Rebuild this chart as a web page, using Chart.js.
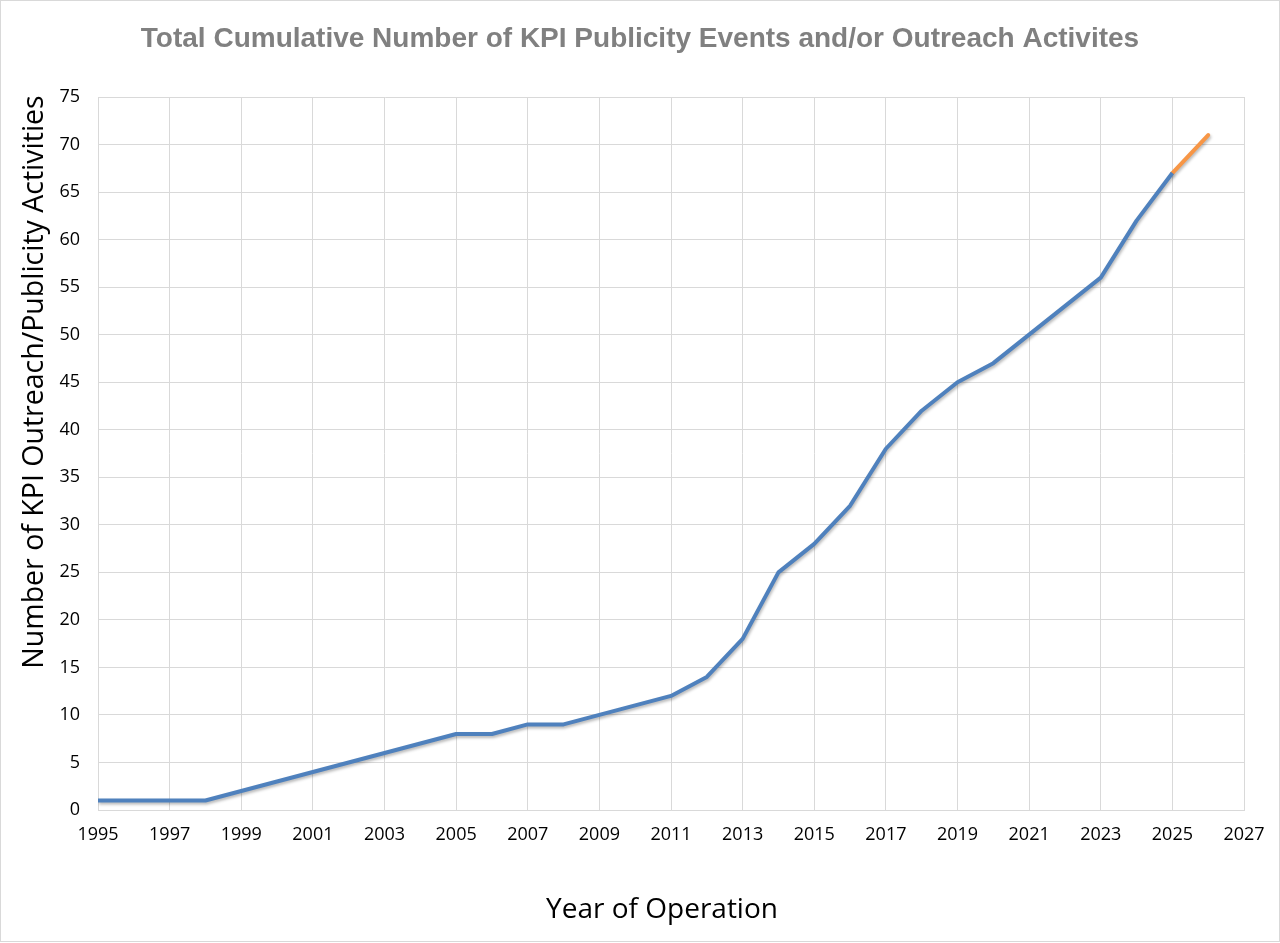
<!DOCTYPE html>
<html>
<head>
<meta charset="utf-8">
<title>KPI Outreach</title>
<script src="https://cdn.jsdelivr.net/npm/chart.js@4.4.1/dist/chart.umd.min.js"></script>
<style>
  html, body { margin: 0; padding: 0; background: #fff; }
  canvas { display: block; }
</style>
</head>
<body>
<canvas id="chart" width="1280" height="943"></canvas>
<script>
// cumulative totals per year
const years = [1995, 1996, 1997, 1998, 1999, 2000, 2001, 2002, 2003, 2004, 2005, 2006, 2007, 2008, 2009, 2010,
               2011, 2012, 2013, 2014, 2015, 2016, 2017, 2018, 2019, 2020, 2021, 2022, 2023, 2024, 2025];
const totals = [1, 1, 1, 1, 2, 3, 4, 5, 6, 7, 8, 8, 9, 9, 10, 11,
                12, 14, 18, 25, 28, 32, 38, 42, 45, 47, 50, 53, 56, 62, 67];
// projection segment
const projYears = [2025, 2026];
const projTotals = [67, 71];

const chartTitle = 'Total Cumulative Number of KPI Publicity Events and/or Outreach Activites';
const xTitle = 'Year of Operation';
const yTitle = 'Number of KPI Outreach/Publicity Activities';

const toPoints = (xs, ys) => xs.map((x, i) => ({ x: x, y: ys[i] }));

// white background, outer border and the text titles
const decorations = {
    id: 'decorations',
    beforeDraw(chart) {
        const ctx = chart.ctx;
        ctx.save();
        ctx.fillStyle = '#ffffff';
        ctx.fillRect(0, 0, chart.width, chart.height);
        ctx.strokeStyle = '#d9d9d9';
        ctx.lineWidth = 1;
        ctx.strokeRect(0.5, 0.5, chart.width - 1, chart.height - 2);
        ctx.restore();
    },
    afterDraw(chart) {
        const ctx = chart.ctx;
        ctx.save();
        ctx.fillStyle = '#808080';
        ctx.font = 'bold 28px "Liberation Sans", Arial, sans-serif';
        ctx.textAlign = 'center';
        ctx.textBaseline = 'alphabetic';
        ctx.fillText(chartTitle, 640, 47);

        ctx.fillStyle = '#000000';
        ctx.font = '28px "Open Sans", "Liberation Sans", sans-serif';
        ctx.fillText(xTitle, 662, 918);

        ctx.translate(43, 382);
        ctx.rotate(-Math.PI / 2);
        ctx.font = '28.5px "Open Sans", "Liberation Sans", sans-serif';
        ctx.fillText(yTitle, 0, 0);
        ctx.restore();
    }
};

// soft shadow under the lines
const lineShadow = {
    id: 'lineShadow',
    beforeDatasetsDraw(chart) {
        const ctx = chart.ctx;
        ctx.save();
        ctx.shadowColor = 'rgba(0, 0, 0, 0.28)';
        ctx.shadowBlur = 3;
        ctx.shadowOffsetX = 1;
        ctx.shadowOffsetY = 2;
    },
    afterDatasetsDraw(chart) {
        chart.ctx.restore();
    }
};

new Chart(document.getElementById('chart'), {
    type: 'line',
    data: {
        datasets: [{
            data: toPoints(years, totals),
            borderColor: '#4f81bd',
            borderWidth: 4,
            pointRadius: 0,
            tension: 0,
            borderJoinStyle: 'round'
        }, {
            data: toPoints(projYears, projTotals),
            borderColor: '#f79646',
            borderWidth: 4,
            pointRadius: 0,
            tension: 0,
            borderCapStyle: 'round'
        }]
    },
    options: {
        responsive: false,
        devicePixelRatio: 1,
        animation: false,
        layout: { padding: { top: 97, right: 36, left: 0, bottom: 0 } },
        plugins: {
            legend: { display: false },
            tooltip: { enabled: false },
            title: { display: false }
        },
        scales: {
            x: {
                type: 'linear',
                min: 1995,
                max: 2027,
                afterFit: (scale) => { scale.height = 133; },
                grid: { color: '#d9d9d9', lineWidth: 1, drawTicks: false },
                border: { color: '#d9d9d9' },
                ticks: {
                    stepSize: 2,
                    padding: 14,
                    color: '#000000',
                    font: { family: '"Open Sans", "Liberation Sans", sans-serif', size: 18 },
                    callback: (v) => String(v)
                }
            },
            y: {
                min: 0,
                max: 75,
                afterFit: (scale) => { scale.width = 98; },
                grid: { color: '#d9d9d9', lineWidth: 1, drawTicks: false },
                border: { color: '#d9d9d9' },
                ticks: {
                    stepSize: 5,
                    padding: 18,
                    color: '#000000',
                    font: { family: '"Open Sans", "Liberation Sans", sans-serif', size: 18 }
                }
            }
        }
    },
    plugins: [decorations, lineShadow]
});
</script>
</body>
</html>
